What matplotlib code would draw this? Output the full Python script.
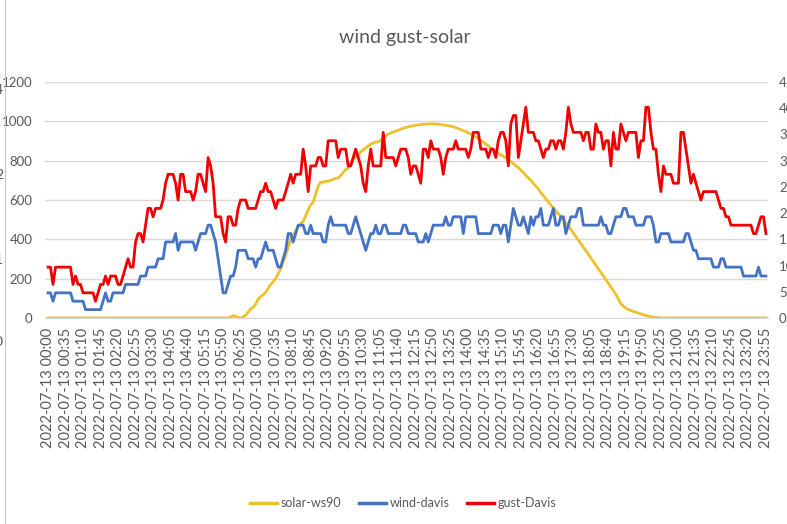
import pandas as pd
import matplotlib
matplotlib.use("Agg")
import matplotlib.pyplot as plt
from matplotlib.lines import Line2D

plt.rcParams["font.family"] = ["Lato", "DejaVu Sans"]

# 5-minute samples, 2022-07-13
times = pd.date_range("2022-07-13 00:00", periods=288, freq="5min")
tick_idx = list(range(0, 288, 7))
tick_labels = [times[i].strftime("%Y-%m-%d %H:%M") for i in tick_idx]

# W/m2, left axis
solar_ws90 = [
    0, 0, 0, 0, 0, 0, 0, 0, 0, 0, 0, 0,
    0, 0, 0, 0, 0, 0, 0, 0, 0, 0, 0, 0,
    0, 0, 0, 0, 0, 0, 0, 0, 0, 0, 0, 0,
    0, 0, 0, 0, 0, 0, 0, 0, 0, 0, 0, 0,
    0, 0, 0, 0, 0, 0, 0, 0, 0, 0, 0, 0,
    0, 0, 0, 0, 0, 0, 0, 0, 0, 0, 0, 0,
    0, 5, 12, 8, 3, 0, 5, 15, 30, 45, 55, 70,
    95, 110, 117, 130, 150, 170, 185, 200, 225, 250, 285, 320,
    360, 400, 422, 445, 465, 480, 490, 520, 550, 575, 590, 630,
    670, 692, 690, 695, 695, 700, 705, 710, 712, 725, 740, 755,
    763, 785, 805, 820, 829, 845, 855, 865, 875, 885, 890, 895,
    895, 905, 915, 925, 935, 940, 946, 950, 955, 960, 965, 968,
    972, 975, 978, 980, 982, 984, 985, 986, 987, 987, 987, 986,
    985, 984, 982, 980, 978, 975, 972, 968, 963, 958, 953, 948,
    942, 935, 928, 920, 912, 903, 895, 885, 875, 865, 855, 845,
    838, 830, 822, 814, 805, 795, 785, 775, 765, 752, 740, 725,
    712, 700, 685, 670, 655, 638, 622, 606, 590, 575, 560, 545,
    530, 515, 500, 485, 468, 450, 432, 414, 396, 378, 360, 342,
    324, 305, 287, 268, 250, 232, 214, 195, 176, 158, 139, 120,
    95, 72, 60, 50, 43, 38, 33, 29, 25, 21, 17, 13,
    10, 7, 5, 3, 1, 0, 0, 0, 0, 0, 0, 0,
    0, 0, 0, 0, 0, 0, 0, 0, 0, 0, 0, 0,
    0, 0, 0, 0, 0, 0, 0, 0, 0, 0, 0, 0,
    0, 0, 0, 0, 0, 0, 0, 0, 0, 0, 0, 0,
]

# km/h, right axis
wind_davis = [
    4.8, 4.8, 3.2, 4.8, 4.8, 4.8, 4.8, 4.8, 4.8, 4.8, 3.2, 3.2,
    3.2, 3.2, 3.2, 1.6, 1.6, 1.6, 1.6, 1.6, 1.6, 1.6, 3.2, 4.8,
    3.2, 3.2, 4.8, 4.8, 4.8, 4.8, 4.8, 6.4, 6.4, 6.4, 6.4, 6.4,
    6.4, 8.0, 8.0, 8.0, 9.7, 9.7, 9.7, 9.7, 11.3, 11.3, 11.3, 14.5,
    14.5, 14.5, 14.5, 16.1, 12.9, 14.5, 14.5, 14.5, 14.5, 14.5, 14.5, 12.9,
    14.5, 16.1, 16.1, 16.1, 17.7, 17.7, 16.1, 14.5, 11.3, 8.0, 4.8, 4.8,
    6.4, 8.0, 8.0, 9.7, 12.9, 12.9, 12.9, 12.9, 11.3, 11.3, 11.3, 9.7,
    11.3, 11.3, 12.9, 14.5, 12.9, 12.9, 12.9, 11.3, 9.7, 9.7, 11.3, 12.9,
    16.1, 16.1, 14.5, 16.1, 17.7, 17.7, 17.7, 16.1, 16.1, 17.7, 16.1, 16.1,
    16.1, 16.1, 14.5, 14.5, 17.7, 19.3, 17.7, 17.7, 17.7, 17.7, 17.7, 17.7,
    16.1, 16.1, 17.7, 19.3, 17.7, 16.1, 14.5, 12.9, 14.5, 16.1, 16.1, 17.7,
    16.1, 16.1, 17.7, 17.7, 16.1, 16.1, 16.1, 16.1, 16.1, 16.1, 17.7, 17.7,
    16.1, 16.1, 16.1, 16.1, 14.5, 14.5, 14.5, 16.1, 14.5, 16.1, 17.7, 17.7,
    17.7, 17.7, 17.7, 19.3, 17.7, 17.7, 19.3, 19.3, 19.3, 19.3, 16.1, 19.3,
    19.3, 19.3, 19.3, 19.3, 16.1, 16.1, 16.1, 16.1, 16.1, 16.1, 17.7, 17.7,
    17.7, 16.1, 17.7, 17.7, 14.5, 17.7, 20.9, 19.3, 17.7, 17.7, 19.3, 17.7,
    16.1, 19.3, 17.7, 19.3, 19.3, 20.9, 17.7, 17.7, 17.7, 19.3, 20.9, 17.7,
    17.7, 19.3, 19.3, 16.1, 17.7, 19.3, 19.3, 19.3, 20.9, 20.9, 17.7, 17.7,
    17.7, 17.7, 17.7, 17.7, 17.7, 19.3, 17.7, 17.7, 16.1, 16.1, 17.7, 19.3,
    19.3, 19.3, 20.9, 20.9, 19.3, 19.3, 19.3, 17.7, 17.7, 17.7, 17.7, 19.3,
    19.3, 19.3, 17.7, 14.5, 14.5, 16.1, 16.1, 16.1, 16.1, 14.5, 14.5, 14.5,
    14.5, 14.5, 14.5, 16.1, 16.1, 14.5, 12.9, 12.9, 11.3, 11.3, 11.3, 11.3,
    11.3, 11.3, 9.7, 9.7, 9.7, 11.3, 11.3, 9.7, 9.7, 9.7, 9.7, 9.7,
    9.7, 9.7, 8.0, 8.0, 8.0, 8.0, 8.0, 8.0, 9.7, 8.0, 8.0, 8.0,
]

gust_davis = [
    9.7, 9.7, 6.4, 9.7, 9.7, 9.7, 9.7, 9.7, 9.7, 9.7, 6.4, 8.0,
    6.4, 6.4, 4.8, 4.8, 4.8, 4.8, 4.8, 3.2, 4.8, 6.4, 6.4, 8.0,
    6.4, 8.0, 8.0, 8.0, 6.4, 6.4, 8.0, 9.7, 11.3, 9.7, 9.7, 14.5,
    16.1, 16.1, 14.5, 17.7, 20.9, 20.9, 19.3, 20.9, 20.9, 20.9, 22.5, 25.7,
    27.4, 27.4, 27.4, 25.7, 22.5, 27.4, 27.4, 24.1, 24.1, 24.1, 22.5, 24.1,
    27.4, 27.4, 25.7, 24.1, 30.6, 29.0, 25.7, 19.3, 19.3, 19.3, 16.1, 14.5,
    19.3, 19.3, 17.7, 17.7, 20.9, 22.5, 22.5, 22.5, 20.9, 20.9, 20.9, 20.9,
    22.5, 24.1, 24.1, 25.7, 24.1, 24.1, 22.5, 20.9, 22.5, 22.5, 22.5, 24.1,
    25.7, 27.4, 25.7, 27.4, 27.4, 27.4, 32.2, 29.0, 24.1, 29.0, 29.0, 29.0,
    30.6, 30.6, 29.0, 29.0, 33.8, 33.8, 33.8, 33.8, 30.6, 32.2, 32.2, 32.2,
    29.0, 29.0, 30.6, 32.2, 30.6, 29.0, 25.7, 24.1, 29.0, 32.2, 29.0, 29.0,
    29.0, 29.0, 35.4, 30.6, 30.6, 30.6, 30.6, 29.0, 30.6, 32.2, 32.2, 32.2,
    30.6, 27.4, 29.0, 29.0, 27.4, 25.7, 32.2, 32.2, 30.6, 33.8, 32.2, 32.2,
    32.2, 30.6, 27.4, 30.6, 32.2, 32.2, 32.2, 33.8, 32.2, 32.2, 32.2, 32.2,
    30.6, 32.2, 35.4, 35.4, 35.4, 32.2, 32.2, 32.2, 30.6, 32.2, 32.2, 30.6,
    33.8, 35.4, 35.4, 33.8, 29.0, 37.0, 38.6, 38.6, 30.6, 33.8, 37.0, 40.2,
    35.4, 35.4, 35.4, 33.8, 33.8, 32.2, 30.6, 32.2, 32.2, 33.8, 33.8, 32.2,
    33.8, 33.8, 32.2, 35.4, 40.2, 37.0, 35.4, 35.4, 35.4, 35.4, 33.8, 35.4,
    35.4, 32.2, 32.2, 37.0, 35.4, 35.4, 32.2, 33.8, 33.8, 29.0, 35.4, 32.2,
    32.2, 37.0, 35.4, 33.8, 35.4, 35.4, 35.4, 35.4, 30.6, 33.8, 33.8, 40.2,
    40.2, 35.4, 32.2, 32.2, 27.4, 24.1, 29.0, 27.4, 27.4, 27.4, 25.7, 25.7,
    25.7, 35.4, 35.4, 32.2, 29.0, 25.7, 27.4, 25.7, 24.1, 22.5, 24.1, 24.1,
    24.1, 24.1, 24.1, 24.1, 22.5, 20.9, 20.9, 19.3, 19.3, 17.7, 17.7, 17.7,
    17.7, 17.7, 17.7, 17.7, 17.7, 17.7, 16.1, 16.1, 17.7, 19.3, 19.3, 16.1,
]

C_SOLAR = "#EDC12C"
C_WIND = "#4472C4"
C_GUST = "#F00000"
C_TEXT = "#595959"
C_GRID = "#D9D9D9"

x = list(range(len(times)))

fig = plt.figure(figsize=(7.87, 5.24), dpi=100)
ax = fig.add_axes([45 / 787, 206 / 524, 723 / 787, 236 / 524])
ax2 = ax.twinx()

ax.plot(x, solar_ws90, color=C_SOLAR, lw=2.0, solid_joinstyle="round")
ax2.plot(x, wind_davis, color=C_WIND, lw=2.0, solid_joinstyle="round")
ax2.plot(x, gust_davis, color=C_GUST, lw=2.0, solid_joinstyle="round")

ax.set_xlim(-1.2, 287.8)
ax.set_ylim(0, 1200)
ax2.set_ylim(0, 45)
ax.set_yticks(range(0, 1201, 200))
ax2.set_yticks(range(0, 46, 5))
ax.set_xticks(tick_idx)
ax.set_xticklabels(tick_labels, rotation=90, fontsize=10.5, color=C_TEXT)
ax.tick_params(axis="x", length=0, pad=7)
ax.tick_params(axis="y", length=0, pad=9, labelsize=9.5, labelcolor=C_TEXT)
ax2.tick_params(axis="y", length=0, pad=8, labelsize=9.5, labelcolor=C_TEXT)

ax.grid(axis="y", color=C_GRID, lw=1.0)
ax.set_axisbelow(True)
for a in (ax, ax2):
    for s in a.spines.values():
        s.set_visible(False)
ax.spines["bottom"].set_visible(True)
ax.spines["bottom"].set_color(C_GRID)

fig.text(405 / 787, 1 - 38 / 524, "wind gust-solar", ha="center", va="center",
         fontsize=14, color=C_TEXT)

handles = [
    Line2D([], [], color=C_SOLAR, lw=2.5),
    Line2D([], [], color=C_WIND, lw=2.5),
    Line2D([], [], color=C_GUST, lw=2.5),
]
fig.legend(handles, ["solar-ws90", "wind-davis", "gust-Davis"],
           loc="center", bbox_to_anchor=(403 / 787, 1 - 503 / 524), ncol=3,
           frameon=False, fontsize=9, handlelength=2.2, handletextpad=0.25,
           columnspacing=1.4, labelcolor=C_TEXT)

# edge of the neighbouring chart in the screenshot
fig.add_artist(Line2D([5 / 787, 5 / 787], [0, 1], color="#C8C8C8", lw=0.8))
for yy, s in [(90, "4"), (175, "2"), (260, "1"), (342, "0")]:
    fig.text(3 / 787, 1 - yy / 524, s, ha="right", va="center",
             fontsize=10, color=C_TEXT)

fig.savefig("out.png", dpi=100)
